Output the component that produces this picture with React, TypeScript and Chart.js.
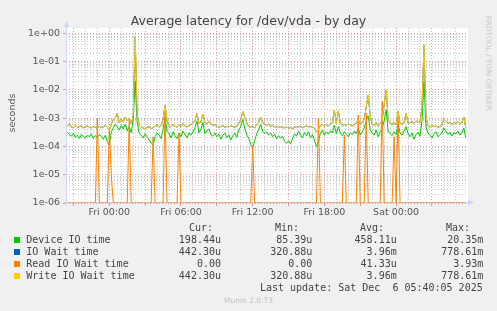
import React, { useEffect, useRef } from 'react';
import { Chart, registerables } from 'chart.js';

Chart.register(...registerables);

// ---- time axis (hours relative to Fri 00:00), one sample every 10 minutes ----
const START_HOUR = -3.5;
const STEP_HOURS = 1 / 6;
const X_MIN = -3.6234;
const X_MAX = 30.017;
const xTickHours = [0, 6, 12, 18, 24];
const xTickLabels = ['Fri 00:00', 'Fri 06:00', 'Fri 12:00', 'Fri 18:00', 'Sat 00:00'];

// ---- y axis ----
const Y_MIN = 1e-6;
const Y_MAX = 1.54;
const yTickLabels = ['1e-06', '1e-05', '1e-04', '1e-03', '1e-02', '1e-01', '1e+00'];

// ---- series (microseconds) ----
const deviceIoTimeUs = [
  320, 260, 230, 290, 210, 250, 190, 270, 230, 200,
  250, 220, 280, 190, 240, 210, 260, 230, 180, 250,
  150, 110, 330, 450, 600, 500, 380, 550, 420, 600,
  350, 500, 300, 900, 20350, 700, 300, 250, 200, 280,
  220, 170, 130, 110, 220, 300, 250, 190, 400, 1100,
  350, 280, 200, 330, 240, 190, 300, 220, 350, 260,
  200, 300, 250, 330, 450, 800, 300, 400, 700, 280,
  350, 420, 260, 230, 300, 220, 280, 180, 250, 300,
  200, 260, 170, 240, 290, 210, 380, 500, 900, 450,
  250, 200, 120, 85.39, 160, 280, 400, 600, 350, 280,
  330, 250, 300, 220, 270, 190, 240, 200, 230, 150,
  130, 160, 120, 190, 280, 230, 350, 260, 200, 310,
  240, 330, 200, 260, 170, 100, 150, 300, 380, 250,
  330, 270, 360, 300, 550, 280, 500, 300, 240, 330,
  270, 220, 300, 260, 350, 280, 450, 250, 330, 450,
  800, 1200, 400, 300, 250, 380, 220, 330, 450, 800,
  2000, 350, 280, 240, 330, 260, 600, 300, 250, 350,
  500, 280, 220, 300, 180, 260, 320, 230, 800, 19000,
  500, 300, 250, 200, 280, 330, 220, 260, 300, 450,
  350, 260, 320, 230, 300, 280, 350, 250, 300, 450,
  198.44,
];

const writeIoWaitUs = [
  520, 640, 480, 450, 560, 470, 500, 530, 460, 490,
  540, 470, 450, 500, 480, 430, 520, 470, 490, 560,
  480, 380, 620, 900, 1000, 1500, 700, 900, 750, 1100,
  800, 1000, 650, 1200, 778610, 1300, 560, 480, 450, 420,
  470, 500, 430, 460, 520, 600, 480, 560, 900, 2900,
  800, 550, 480, 600, 520, 470, 580, 500, 640, 530,
  480, 560, 600, 700, 800, 1500, 650, 750, 1400, 700,
  600, 800, 650, 550, 600, 520, 480, 500, 560, 470,
  510, 490, 540, 500, 470, 520, 650, 900, 1700, 1100,
  700, 500, 480, 520, 450, 600, 700, 1100, 750, 600,
  550, 620, 500, 560, 480, 520, 470, 500, 470, 450,
  490, 440, 460, 430, 470, 500, 480, 520, 460, 500,
  540, 480, 510, 470, 450, 320.88, 400, 560, 600, 520,
  580, 540, 620, 700, 1900, 650, 1800, 700, 550, 600,
  560, 620, 580, 540, 600, 650, 900, 600, 700, 900,
  2500, 6600, 1200, 600, 550, 700, 520, 650, 800, 3000,
  10000, 900, 650, 600, 700, 580, 1700, 650, 600, 700,
  1500, 650, 700, 750, 650, 800, 700, 720, 2500, 390000,
  1200, 520, 480, 560, 500, 530, 470, 510, 560, 950,
  800, 650, 720, 600, 700, 650, 750, 620, 680, 1100,
  442.3,
];

// IO Wait time equals Write IO Wait time (identical Cur/Min/Avg/Max)
const ioWaitUs = writeIoWaitUs.slice();

const readIoWaitUs = [
  0, 0, 0, 0, 0, 0, 0, 0, 0, 0,
  0, 0, 0, 0, 0, 1000, 0, 0, 0, 0,
  0, 450, 10, 0, 0, 0, 0, 0, 0, 0,
  0, 850, 0, 0, 0, 0, 0, 0, 0, 0,
  0, 0, 0, 220, 0, 0, 0, 0, 0, 2000,
  0, 0, 0, 0, 0, 0, 290, 0, 0, 0,
  0, 0, 0, 0, 0, 0, 0, 0, 0, 0,
  0, 0, 0, 0, 0, 0, 0, 0, 0, 0,
  0, 0, 0, 0, 0, 0, 0, 0, 0, 0,
  0, 0, 0, 100, 0, 0, 0, 0, 0, 0,
  0, 0, 0, 0, 0, 0, 0, 0, 0, 0,
  0, 0, 0, 0, 0, 0, 0, 0, 0, 0,
  0, 0, 0, 0, 0, 0, 1000, 0, 0, 0,
  0, 0, 0, 0, 0, 0, 0, 0, 0, 250,
  0, 0, 0, 0, 0, 0, 1300, 0, 0, 0,
  1500, 0, 0, 0, 0, 0, 0, 0, 3930, 0,
  0, 0, 0, 0, 220, 0, 1700, 0, 0, 0,
  0, 0, 0, 0, 0, 0, 0, 0, 0, 0,
  0, 0, 0, 0, 0, 0, 0, 0, 0, 0,
  0, 0, 0, 0, 0, 0, 0, 0, 0, 0,
  0,
];

// ---- legend table ----
const legendNames = ['Device IO time', 'IO Wait time', 'Read IO Wait time', 'Write IO Wait time'];
const legendColors = ['#00CC00', '#0066B3', '#FF8000', '#FFCC00'];
const legendCur = ['198.44u', '442.30u', '0.00', '442.30u'];
const legendMin = ['85.39u', '320.88u', '0.00', '320.88u'];
const legendAvg = ['458.11u', '3.96m', '41.33u', '3.96m'];
const legendMax = ['20.35m', '778.61m', '3.93m', '778.61m'];
const legendHeaders = ['Cur:', 'Min:', 'Avg:', 'Max:'];
const TITLE = 'Average latency for /dev/vda - by day';
const Y_LABEL = 'seconds';
const LAST_UPDATE = 'Last update: Sat Dec  6 05:40:05 2025';
const MUNIN_VERSION = 'Munin 2.0.73';
const WATERMARK = 'RRDTOOL / TOBI OETIKER';

const MAJOR_GRID = 'rgba(220,70,70,0.5)';
const MINOR_GRID = 'rgba(150,150,150,0.5)';
const AXIS_COLOR = '#CFD6F8';
const FONT_COLOR = '#555555';

const isDecade = (v: number) => Math.abs(Math.log10(v) - Math.round(Math.log10(v))) < 1e-9;

const toPoints = (arr: number[]) =>
  arr.map((v, i) => ({ x: START_HOUR + i * STEP_HOURS, y: Math.max(v * 1e-6, Y_MIN) }));

const muninPlugin = {
  id: 'muninFrame',
  beforeDraw(chart: any) {
    const { ctx, chartArea: a } = chart;
    ctx.save();
    ctx.fillStyle = '#ffffff';
    ctx.fillRect(a.left, a.top, a.right - a.left, a.bottom - a.top);
    ctx.restore();
  },
  beforeDatasetsDraw(chart: any) {
    const { ctx, chartArea: a } = chart;
    ctx.save();
    ctx.strokeStyle = AXIS_COLOR;
    ctx.fillStyle = AXIS_COLOR;
    ctx.lineWidth = 1;
    const lx = Math.round(a.left) + 0.5;
    const by = Math.round(a.bottom) - 0.5;
    ctx.beginPath();
    ctx.moveTo(lx, a.bottom + 2);
    ctx.lineTo(lx, a.top - 2);
    ctx.moveTo(a.left - 2, by);
    ctx.lineTo(a.right + 2, by);
    ctx.stroke();
    // arrows
    ctx.beginPath();
    ctx.moveTo(lx, a.top - 7);
    ctx.lineTo(lx - 3, a.top - 1);
    ctx.lineTo(lx + 3, a.top - 1);
    ctx.closePath();
    ctx.fill();
    ctx.beginPath();
    ctx.moveTo(a.right + 6, by);
    ctx.lineTo(a.right, by - 3);
    ctx.lineTo(a.right, by + 3);
    ctx.closePath();
    ctx.fill();
    ctx.restore();
  },
};

const abs = (extra: React.CSSProperties): React.CSSProperties => ({
  position: 'absolute',
  whiteSpace: 'pre',
  margin: 0,
  padding: 0,
  ...extra,
});

export default function App() {
  const canvasRef = useRef<HTMLCanvasElement | null>(null);

  useEffect(() => {
    const canvas = canvasRef.current;
    if (!canvas) return;
    const yGrid: number[] = [];
    for (let e = -6; e <= 0; e++) {
      for (let m = 1; m <= 9; m++) {
        const v = m * Math.pow(10, e);
        if (v <= Y_MAX) yGrid.push(m === 1 ? Math.pow(10, e) : v);
      }
    }
    const xGrid: number[] = [];
    for (let h = Math.ceil(X_MIN); h <= 29; h++) xGrid.push(h);

    const tickFont = { family: 'DejaVu Sans', size: 9.5 };

    const chart = new Chart(canvas, {
      type: 'line',
      data: {
        datasets: [
          { label: legendNames[0], data: toPoints(deviceIoTimeUs), borderColor: legendColors[0], order: 4 },
          { label: legendNames[1], data: toPoints(ioWaitUs), borderColor: legendColors[1], order: 3 },
          { label: legendNames[2], data: toPoints(readIoWaitUs), borderColor: legendColors[2], order: 2 },
          { label: legendNames[3], data: toPoints(writeIoWaitUs), borderColor: legendColors[3], order: 1 },
        ].map((d) => ({ ...d, borderWidth: 1, pointRadius: 0, tension: 0, fill: false })),
      },
      options: {
        animation: false,
        responsive: false,
        maintainAspectRatio: false,
        devicePixelRatio: 1,
        layout: { padding: { left: 0, top: 28, right: 29, bottom: 88 } },
        plugins: { legend: { display: false }, tooltip: { enabled: false }, title: { display: false } },
        scales: {
          x: {
            type: 'linear',
            min: X_MIN,
            max: X_MAX,
            afterFit: (s: any) => { s.height = 20; },
            afterBuildTicks: (s: any) => { s.ticks = xGrid.map((v) => ({ value: v })); },
            ticks: {
              autoSkip: false,
              maxRotation: 0,
              minRotation: 0,
              padding: 1,
              color: FONT_COLOR,
              font: tickFont,
              callback: (v: any) => {
                const i = xTickHours.indexOf(Number(v));
                return i >= 0 ? xTickLabels[i] : '';
              },
            },
            grid: {
              drawTicks: true,
              tickLength: 3,
              lineWidth: 1,
              color: (c: any) => (c.tick && c.tick.value % 3 === 0 ? MAJOR_GRID : MINOR_GRID),
              tickColor: (c: any) => (c.tick && c.tick.value % 3 === 0 ? MAJOR_GRID : 'rgba(0,0,0,0)'),
            },
            border: { display: false, dash: [1, 2] },
          },
          y: {
            type: 'logarithmic',
            min: Y_MIN,
            max: Y_MAX,
            afterFit: (s: any) => { s.width = 66; },
            afterBuildTicks: (s: any) => { s.ticks = yGrid.map((v) => ({ value: v })); },
            ticks: {
              autoSkip: false,
              padding: 3,
              color: FONT_COLOR,
              font: tickFont,
              callback: (v: any) => {
                const n = Number(v);
                if (!isDecade(n)) return '';
                return yTickLabels[Math.round(Math.log10(n)) + 6] ?? '';
              },
            },
            grid: {
              drawTicks: true,
              tickLength: 3,
              lineWidth: 1,
              color: (c: any) => (c.tick && isDecade(c.tick.value) ? MAJOR_GRID : MINOR_GRID),
              tickColor: (c: any) => (c.tick && isDecade(c.tick.value) ? MAJOR_GRID : 'rgba(0,0,0,0)'),
            },
            border: { display: false, dash: [1, 2] },
          },
        },
      },
      plugins: [muninPlugin],
    } as any);

    return () => chart.destroy();
  }, []);

  const mono: React.CSSProperties = { fontFamily: 'DejaVu Sans Mono', fontSize: 10, lineHeight: '12px', color: '#444' };
  const valueRights = [221, 312.3, 396.7, 483.3];
  const headerRights = [213, 299, 384, 470];
  const rowTop = (r: number) => 233.5 + r * 12;
  const valueCols = [legendCur, legendMin, legendAvg, legendMax];

  return (
    <div style={{ position: 'fixed', left: 0, top: 0, width: 497, height: 311, background: '#f0f0f0', overflow: 'hidden' }}>
      <canvas ref={canvasRef} width={497} height={311} style={{ position: 'absolute', left: 0, top: 0, width: 497, height: 311 }} />
      <div style={abs({ left: 0, width: 497, top: 12.5, textAlign: 'center', fontFamily: 'DejaVu Sans', fontSize: 12.5, lineHeight: '15px', color: '#444' })}>{TITLE}</div>
      <div style={abs({ left: 11.7 - 40, top: 112.5 - 6, width: 80, height: 12, textAlign: 'center', fontFamily: 'DejaVu Sans', fontSize: 9.5, lineHeight: '12px', color: FONT_COLOR, transform: 'rotate(-90deg)' })}>{Y_LABEL}</div>
      <div style={abs({ left: 488 - 60, top: 62.5 - 5, width: 120, height: 10, textAlign: 'center', fontFamily: 'DejaVu Sans', fontSize: 7.4, lineHeight: '10px', color: '#c8c8c8', transform: 'rotate(90deg)' })}>{WATERMARK}</div>
      {legendHeaders.map((h, k) => (
        <div key={'h' + k} style={abs({ ...mono, right: 497 - headerRights[k], top: rowTop(-1), textAlign: 'right' })}>{h}</div>
      ))}
      {legendNames.map((name, r) => (
        <React.Fragment key={name}>
          <div style={abs({ left: 14, top: 237 + r * 12, width: 6, height: 6, background: legendColors[r] })} />
          <div style={abs({ ...mono, left: 26.3, top: rowTop(r) })}>{name}</div>
          {valueCols.map((col, k) => (
            <div key={k} style={abs({ ...mono, right: 497 - valueRights[k], top: rowTop(r), textAlign: 'right' })}>{col[r]}</div>
          ))}
        </React.Fragment>
      ))}
      <div style={abs({ ...mono, right: 497 - 482.7, top: rowTop(4), textAlign: 'right' })}>{LAST_UPDATE}</div>
      <div style={abs({ left: 0, width: 497, top: 296, textAlign: 'center', fontFamily: 'DejaVu Sans', fontSize: 7.5, lineHeight: '9px', color: '#c0c0c0' })}>{MUNIN_VERSION}</div>
    </div>
  );
}
